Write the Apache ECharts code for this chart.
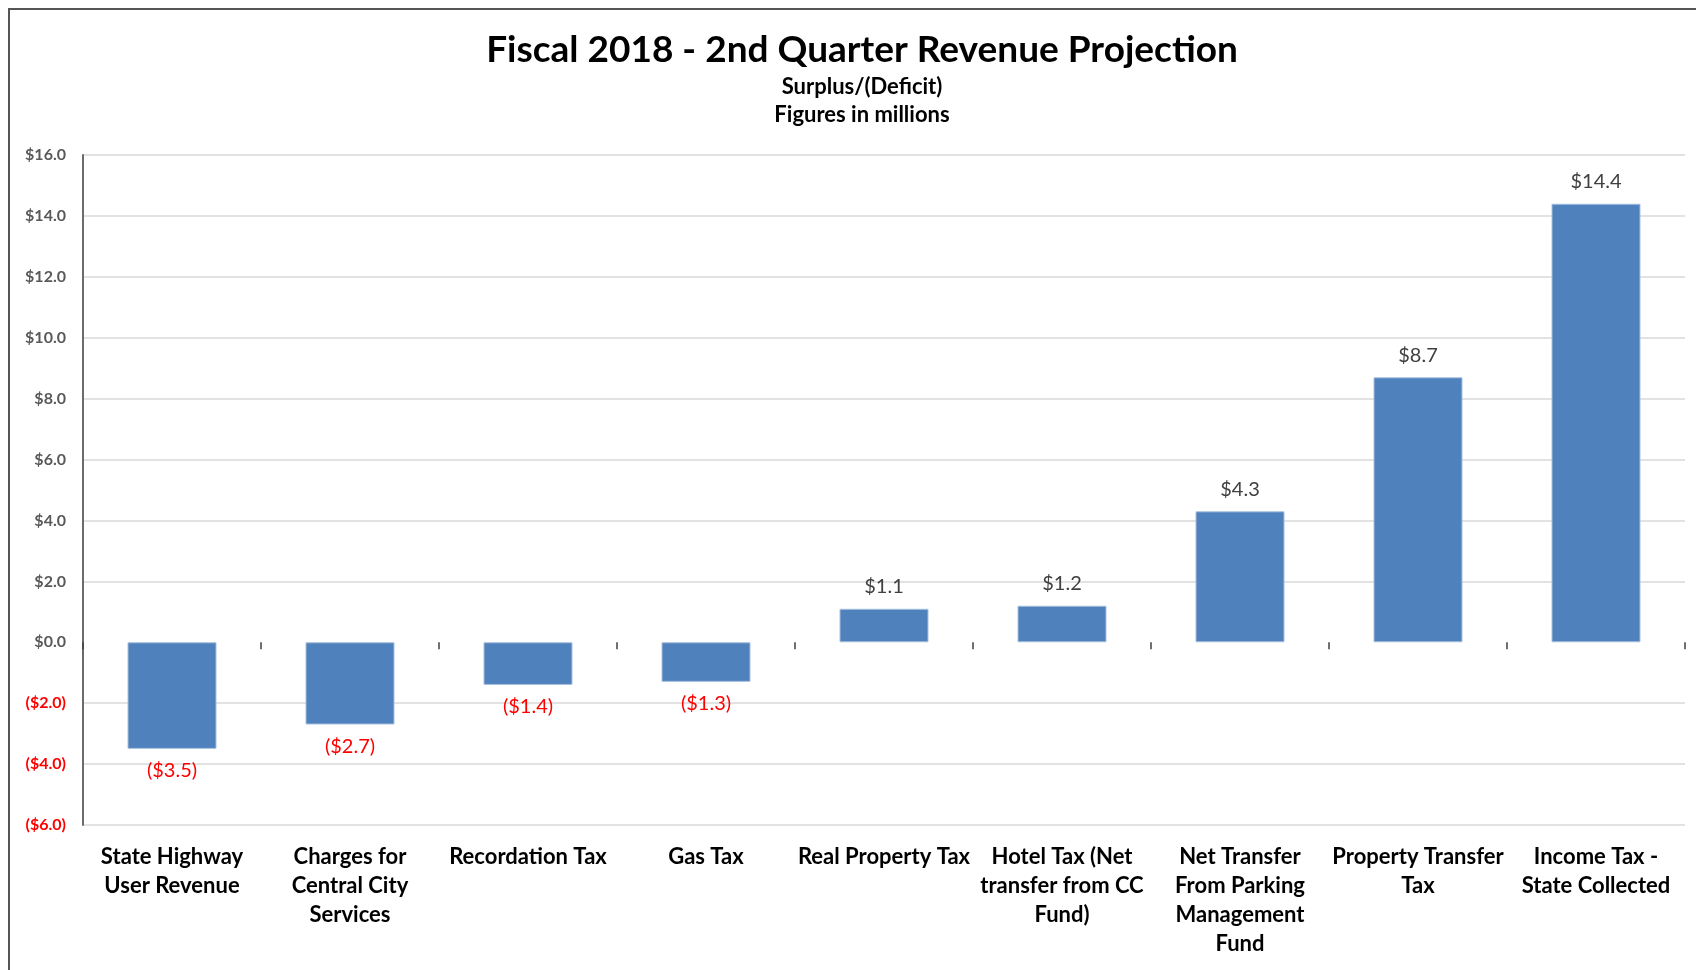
<!DOCTYPE html>
<html>
<head>
<meta charset="utf-8">
<script src="https://cdn.jsdelivr.net/npm/echarts@6/dist/echarts.min.js"></script>
<style>
  html, body { margin: 0; padding: 0; background: #fff; overflow: hidden; }
  #frame {
    position: absolute; left: 8px; top: 8px; width: 1720px; height: 1000px;
    border: 2px solid #555; box-sizing: border-box;
  }
  #chart { position: absolute; left: 0; top: 0; width: 1696px; height: 970px; }
</style>
</head>
<body>
<div id="frame"></div>
<div id="chart"></div>
<script>
// revenue items, in the order they appear on the axis
const categories = [
  'State Highway\nUser Revenue',
  'Charges for\nCentral City\nServices',
  'Recordation Tax',
  'Gas Tax',
  'Real Property Tax',
  'Hotel Tax (Net\ntransfer from CC\nFund)',
  'Net Transfer\nFrom Parking\nManagement\nFund',
  'Property Transfer\nTax',
  'Income Tax -\nState Collected'
]
// surplus / (deficit), millions
const values = [-3.5, -2.7, -1.4, -1.3, 1.1, 1.2, 4.3, 8.7, 14.4]

const yMin = -6
const yMax = 16
const yStep = 2

const money = (v) => v < 0 ? '($' + Math.abs(v).toFixed(1) + ')' : '$' + v.toFixed(1)

const chart = echarts.init(document.getElementById('chart'))

// hide the gridline that sits on zero (Excel drew none there)
const gridColors = []
for (let v = yMin; v <= yMax; v += yStep) gridColors.push(v === 0 ? 'rgba(0,0,0,0)' : '#d9d9d9')

const labelFont = 'Lato'

const option = {
  animation: false,
  title: [
    {
      text: 'Fiscal 2018 - 2nd Quarter Revenue Projection',
      left: 857, top: 27, textAlign: 'center',
      textStyle: { fontFamily: 'Lato', fontWeight: 'bold', fontSize: 37, color: '#000' }
    },
    {
      text: 'Surplus/(Deficit)\nFigures in millions',
      left: 857, top: 68, textAlign: 'center',
      textStyle: { fontFamily: 'Lato', fontWeight: 'bold', fontSize: 22, lineHeight: 28, color: '#000' }
    }
  ],
  grid: { left: 83, right: 11, top: 155, bottom: 145, containLabel: false },
  xAxis: [
    {
      type: 'category',
      data: categories,
      position: 'bottom',
      axisLine: { show: false, onZero: false },
      axisTick: { show: false },
      axisLabel: {
        interval: 0,
        margin: 17,
        fontFamily: labelFont,
        fontWeight: 'bold',
        fontSize: 22,
        lineHeight: 29,
        color: '#000'
      }
    },
    {
      // tick marks at zero
      type: 'category',
      data: categories,
      position: 'top',
      axisLine: { show: true, onZero: true, lineStyle: { color: 'rgba(0,0,0,0)' } },
      axisTick: { show: true, inside: true, length: 7, lineStyle: { color: '#404040', width: 1.5 } },
      axisLabel: { show: false }
    }
  ],
  yAxis: {
    type: 'value',
    min: yMin,
    max: yMax,
    interval: yStep,
    axisLine: { show: true, lineStyle: { color: '#6b6b6b', width: 2 } },
    axisTick: { show: false },
    splitLine: { show: true, lineStyle: { color: gridColors, width: 1.5 } },
    axisLabel: {
      margin: 17,
      formatter: (v) => v < 0 ? '{neg|' + money(v) + '}' : '{pos|' + money(v) + '}',
      rich: {
        pos: { color: '#595959', fontFamily: labelFont, fontWeight: 'bold', fontSize: 16 },
        neg: { color: '#ff0000', fontFamily: labelFont, fontWeight: 'bold', fontSize: 16 }
      }
    }
  },
  series: [{
    type: 'bar',
    xAxisIndex: 0,
    barCategoryGap: '50%',
    data: values.map(v => ({
      value: v,
      label: {
        position: v < 0 ? 'bottom' : 'top',
        color: v < 0 ? '#ff0000' : '#404040'
      }
    })),
    itemStyle: { color: '#4f81bd', borderColor: '#a7c0de', borderWidth: 1 },
    label: {
      show: true,
      distance: 12,
      fontFamily: 'Lato',
      fontSize: 20,
      formatter: (p) => money(p.value)
    }
  }]
}

chart.setOption(option)
</script>
</body>
</html>
